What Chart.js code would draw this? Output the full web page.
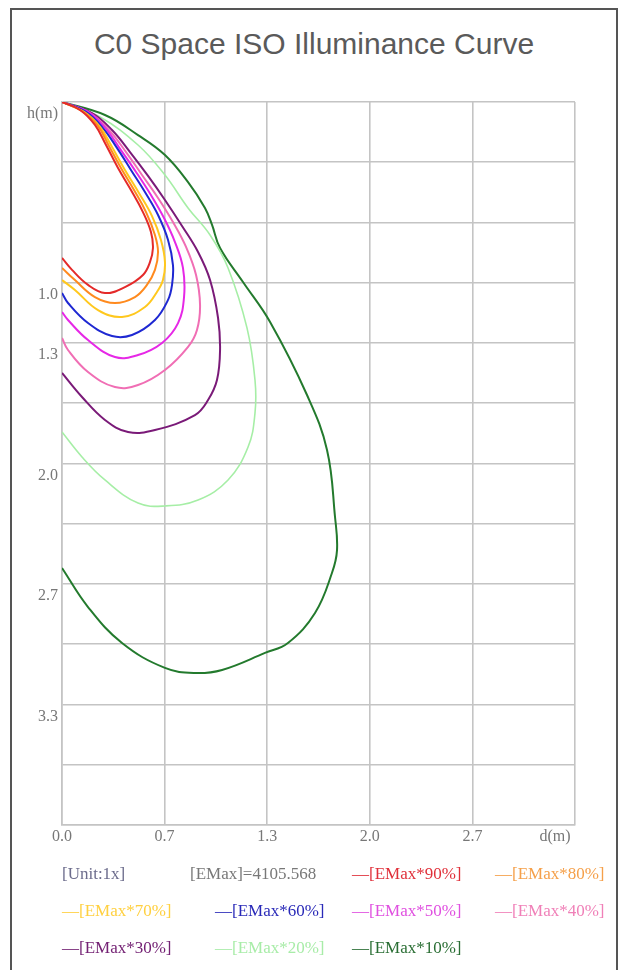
<!DOCTYPE html>
<html><head><meta charset="utf-8">
<script src="https://cdn.jsdelivr.net/npm/chart.js@4.4.0/dist/chart.umd.min.js"></script>
<style>
html,body{margin:0;padding:0;background:#fff;}
#wrap{position:relative;width:627px;height:970px;overflow:hidden;background:#fff;}
#frame{position:absolute;left:10px;top:8px;width:608px;height:990px;border:2px solid #555;box-sizing:border-box;}
#title{position:absolute;left:10px;width:608px;top:27px;text-align:center;font-family:"Liberation Sans",Arial,sans-serif;font-size:30px;color:#5a5a5a;}
canvas{position:absolute;left:0;top:0;}
.lg{position:absolute;font-family:"Liberation Serif",serif;font-size:17px;white-space:nowrap;line-height:20px;}
</style></head>
<body><div id="wrap"><div id="frame"></div><div id="title">C0 Space ISO Illuminance Curve</div><canvas id="c" width="627" height="970"></canvas><div id="legend"></div></div>
<script>
// ---- data (d = horizontal distance m, h = height below fixture m) ----
const xTickVals = [0, 2/3, 4/3, 2, 8/3, 10/3];
const xTickLabels = ['0.0', '0.7', '1.3', '2.0', '2.7', 'd(m)\u2003\u2003\u2002'];
const yTickVals = [0, 1/3, 2/3, 1, 4/3, 5/3, 2, 7/3, 8/3, 3, 10/3, 11/3, 4];
const yTickLabels = ['h(m)', '', '', '1.0', '1.3', '', '2.0', '', '2.7', '', '3.3', '', ''];

const seriesNames = ['[EMax*90%]', '[EMax*80%]', '[EMax*70%]', '[EMax*60%]', '[EMax*50%]', '[EMax*40%]', '[EMax*30%]', '[EMax*20%]', '[EMax*10%]'];
const unitLabel = '[Unit:1x]';
const emaxLabel = '[EMax]=4105.568';

const e90_d = [0, 0.117, 0.214, 0.286, 0.364, 0.448, 0.526, 0.578, 0.591, 0.572, 0.526, 0.409, 0.279, 0.169, 0.065, 0];
const e90_h = [0, 0.044, 0.127, 0.238, 0.365, 0.487, 0.609, 0.719, 0.808, 0.885, 0.957, 1.024, 1.057, 1.012, 0.929, 0.863];

const e80_d = [0, 0.130, 0.234, 0.305, 0.383, 0.468, 0.546, 0.604, 0.624, 0.604, 0.552, 0.474, 0.344, 0.214, 0.084, 0];
const e80_h = [0, 0.050, 0.133, 0.243, 0.365, 0.487, 0.609, 0.736, 0.830, 0.929, 1.012, 1.079, 1.112, 1.079, 0.985, 0.918];

const e70_d = [0, 0.143, 0.247, 0.325, 0.409, 0.500, 0.585, 0.643, 0.669, 0.656, 0.617, 0.539, 0.390, 0.234, 0.084, 0];
const e70_h = [0, 0.055, 0.138, 0.249, 0.376, 0.503, 0.631, 0.763, 0.885, 0.985, 1.051, 1.134, 1.189, 1.151, 1.040, 0.985];

const e60_d = [0, 0.156, 0.266, 0.357, 0.448, 0.539, 0.624, 0.689, 0.721, 0.715, 0.689, 0.604, 0.455, 0.325, 0.169, 0.039, 0];
const e60_h = [0, 0.055, 0.144, 0.254, 0.376, 0.498, 0.625, 0.763, 0.902, 1.012, 1.095, 1.206, 1.289, 1.295, 1.223, 1.112, 1.057];

const e50_d = [0, 0.169, 0.286, 0.383, 0.481, 0.578, 0.663, 0.734, 0.786, 0.793, 0.754, 0.650, 0.494, 0.344, 0.169, 0.039, 0];
const e50_h = [0, 0.055, 0.149, 0.266, 0.387, 0.515, 0.642, 0.775, 0.918, 1.079, 1.223, 1.333, 1.400, 1.411, 1.317, 1.206, 1.162];

const e40_d = [0, 0.182, 0.305, 0.416, 0.520, 0.624, 0.721, 0.806, 0.871, 0.897, 0.877, 0.819, 0.669, 0.494, 0.344, 0.169, 0.039, 0];
const e40_h = [0, 0.061, 0.155, 0.277, 0.404, 0.531, 0.664, 0.802, 0.957, 1.123, 1.261, 1.355, 1.483, 1.566, 1.577, 1.494, 1.372, 1.306];

const e30_d = [0, 0.195, 0.325, 0.442, 0.559, 0.669, 0.780, 0.884, 0.962, 1.014, 1.027, 1.007, 0.949, 0.864, 0.604, 0.429, 0.279, 0.130, 0];
const e30_h = [0, 0.061, 0.155, 0.277, 0.409, 0.542, 0.686, 0.830, 0.985, 1.195, 1.372, 1.538, 1.649, 1.732, 1.815, 1.826, 1.759, 1.632, 1.499];

const e20_d = [0, 0.247, 0.494, 0.669, 0.819, 0.962, 1.079, 1.202, 1.254, 1.254, 1.209, 1.079, 0.884, 0.669, 0.494, 0.279, 0.130, 0];
const e20_h = [0, 0.083, 0.238, 0.404, 0.586, 0.736, 0.918, 1.250, 1.538, 1.721, 1.909, 2.091, 2.202, 2.235, 2.219, 2.091, 1.964, 1.826];

const e10_d = [0, 0.279, 0.494, 0.669, 0.819, 0.929, 0.975, 1.027, 1.176, 1.352, 1.592, 1.722, 1.774, 1.787, 1.754, 1.644, 1.468, 1.319, 1.040, 0.864, 0.669, 0.390, 0.169, 0];
const e10_h = [0, 0.072, 0.183, 0.293, 0.443, 0.586, 0.680, 0.808, 0.996, 1.217, 1.621, 1.925, 2.296, 2.479, 2.606, 2.827, 2.993, 3.048, 3.142, 3.159, 3.131, 2.993, 2.794, 2.578];

// ---- styles ----
const seriesD = [e90_d, e80_d, e70_d, e60_d, e50_d, e40_d, e30_d, e20_d, e10_d];
const seriesH = [e90_h, e80_h, e70_h, e60_h, e50_h, e40_h, e30_h, e20_h, e10_h];
const lineColors = ['#e42a2a', '#ff8a1e', '#ffc81e', '#1e28d2', '#e628e6', '#f06eb4', '#7a1a78', '#a6eea6', '#237a2d'];
const textColors = ['#e0303a', '#f5a04a', '#ffd040', '#2a2ab8', '#e050e0', '#f080b8', '#742274', '#a8eca8', '#2a6e34'];

const datasets = seriesNames.map((name, i) => ({
  label: name,
  data: seriesD[i].map((d, k) => ({ x: d, y: seriesH[i][k] })),
  showLine: true,
  borderColor: lineColors[i],
  backgroundColor: lineColors[i],
  borderWidth: i === 7 ? 1.6 : 2,
  pointRadius: 0,
  tension: 0.4,
  fill: false
}));

const tickFont = { family: '"Liberation Serif", serif', size: 16 };

new Chart(document.getElementById('c'), {
  type: 'scatter',
  data: { datasets },
  options: {
    responsive: false,
    animation: false,
    devicePixelRatio: 1,
    layout: { padding: { left: 0, right: 52, top: 102, bottom: 115 } },
    plugins: { legend: { display: false }, title: { display: false }, tooltip: { enabled: false } },
    scales: {
      x: {
        type: 'linear', min: 0, max: 10/3,
        afterBuildTicks: s => { s.ticks = xTickVals.map(v => ({ value: v })); },
        afterFit: s => { s.height = 30; },
        ticks: { font: tickFont, color: '#777', padding: 2, maxRotation: 0, autoSkip: false,
                 callback: (v, i) => xTickLabels[i] },
        grid: { color: '#c4c4c4', lineWidth: 1.6, drawTicks: false },
        border: { color: '#c4c4c4', width: 1.6 }
      },
      y: {
        type: 'linear', min: 0, max: 4, reverse: true,
        afterBuildTicks: s => { s.ticks = yTickVals.map(v => ({ value: v })); },
        afterFit: s => { s.width = 62; },
        ticks: { font: tickFont, color: '#777', padding: 4, autoSkip: false, labelOffset: 12,
                 callback: (v, i) => yTickLabels[i] },
        grid: { color: '#c4c4c4', lineWidth: 1.6, drawTicks: false },
        border: { color: '#c4c4c4', width: 1.6 }
      }
    }
  }
});

// ---- HTML legend ----
const legendItems = [
  { text: unitLabel, color: '#6c6c8c' },
  { text: emaxLabel, color: '#787878' }
].concat(seriesNames.map((n, i) => ({ text: '\u2014' + n, color: textColors[i] })));
const legendPos = [[62, 864], [190, 864], [352, 864], [495, 864],
                   [62, 901], [215, 901], [352, 901], [495, 901],
                   [62, 938], [215, 938], [352, 938]];
const lg = document.getElementById('legend');
legendItems.forEach((it, i) => {
  const el = document.createElement('div');
  el.className = 'lg';
  el.textContent = it.text;
  el.style.color = it.color;
  el.style.left = legendPos[i][0] + 'px';
  el.style.top = legendPos[i][1] + 'px';
  lg.appendChild(el);
});
</script>
</body></html>
